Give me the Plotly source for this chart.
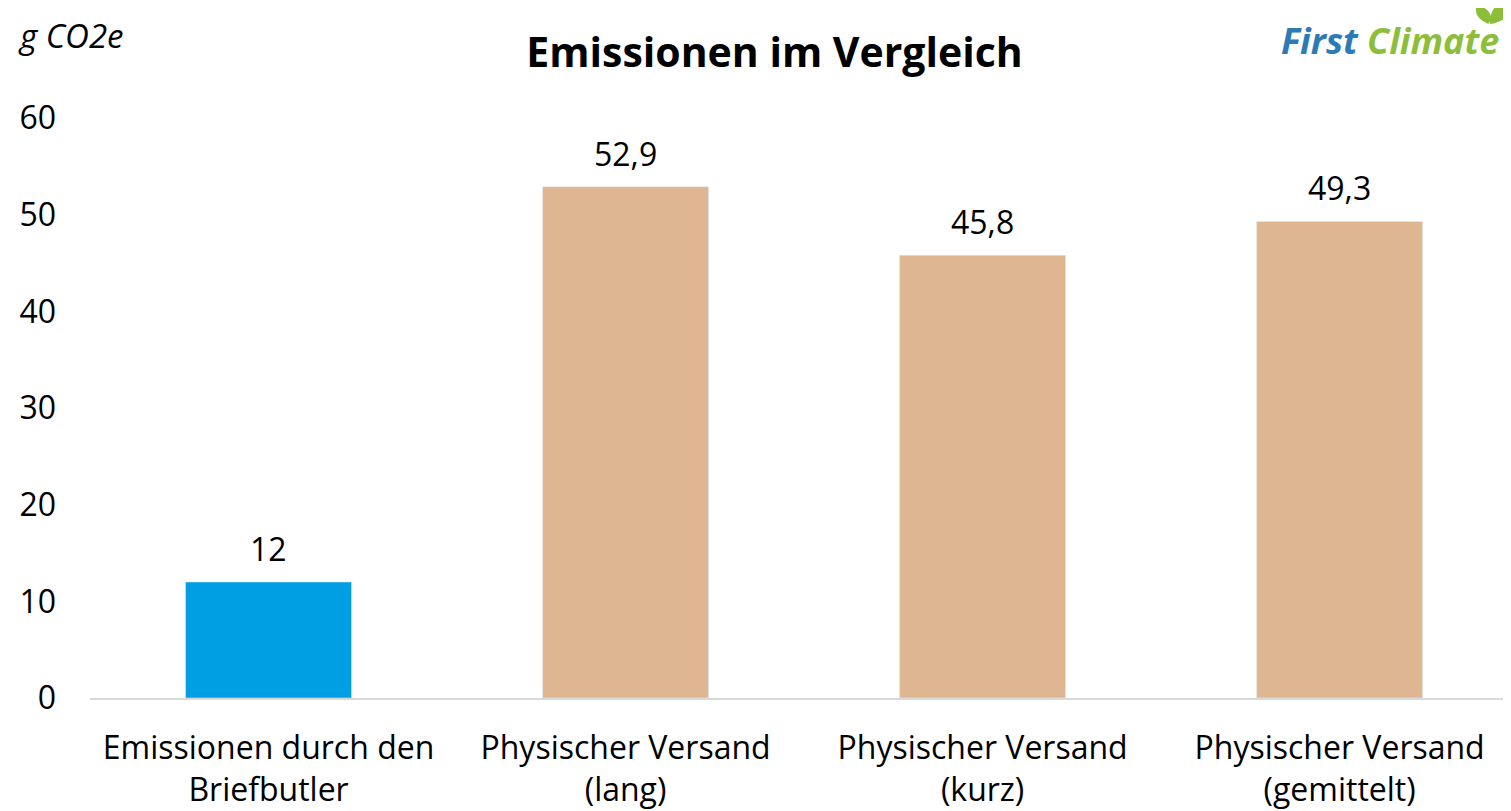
import plotly.graph_objects as go

categories = ["Emissionen durch den<br>Briefbutler", "Physischer Versand<br>(lang)",
              "Physischer Versand<br>(kurz)", "Physischer Versand<br>(gemittelt)"]
values = [12, 52.9, 45.8, 49.3]
labels = ["12", "52,9", "45,8", "49,3"]
colors = ["#009FE3", "#DEB792", "#DEB792", "#DEB792"]
y_ticks = [0, 10, 20, 30, 40, 50, 60]

FONT = "Open Sans"

fig = go.Figure()
fig.add_trace(go.Bar(x=list(range(len(categories))), y=values, marker_color=colors,
                     width=0.465, hoverinfo="skip"))

for i, (v, t) in enumerate(zip(values, labels)):
    fig.add_annotation(x=i, y=v, text=t, showarrow=False, yanchor="bottom",
                       yshift=10, font=dict(family=FONT, size=32, color="#000"))

fig.add_annotation(xref="paper", yref="paper", x=-0.052, y=1.143, xanchor="left",
                   yanchor="middle", text="<i>g CO2e</i>", showarrow=False,
                   font=dict(family=FONT, size=33, color="#000"))

fig.add_annotation(xref="paper", yref="paper", x=0.993, y=1.134, xanchor="right",
                   yanchor="middle",
                   text="<b><i><span style='color:#2C7BB6'>First</span> "
                        "<span style='color:#8DBE3A'>Climate</span></i></b>",
                   showarrow=False, font=dict(family=FONT, size=36))
# leaves of logo
fig.add_shape(type="path", xref="paper", yref="paper",
              path="M 0.9840 1.162 Q 0.972 1.176 0.9765 1.196 Q 0.990 1.182 0.9840 1.162 Z",
              fillcolor="#8DBE3A", line_width=0)
fig.add_shape(type="path", xref="paper", yref="paper",
              path="M 0.9850 1.162 Q 0.985 1.198 0.9990 1.203 Q 1.0015 1.168 0.9850 1.162 Z",
              fillcolor="#8DBE3A", line_width=0)

fig.update_layout(
    width=1503, height=803,
    margin=dict(l=82, r=0, t=110, b=113),
    paper_bgcolor="white", plot_bgcolor="white",
    title=dict(text="<b>Emissionen im Vergleich</b>", x=0.51, xanchor="center",
               y=0.944, yanchor="middle",
               font=dict(family=FONT, size=41, color="#000")),
    showlegend=False,
    font=dict(family=FONT, color="#000"),
    xaxis=dict(tickvals=list(range(len(categories))), ticktext=categories,
               range=[-0.5, 3.48], showgrid=False, showline=True,
               linecolor="#D9D9D9", linewidth=2, ticks="", zeroline=False,
               ticklabelstandoff=21,
               tickfont=dict(family=FONT, size=32, color="#000")),
    yaxis=dict(range=[0, 60], tickvals=y_ticks, showgrid=False, showline=False,
               zeroline=False, ticks="", ticklabelstandoff=33,
               tickfont=dict(family=FONT, size=32, color="#000")),
)

fig.write_html("out.html")
